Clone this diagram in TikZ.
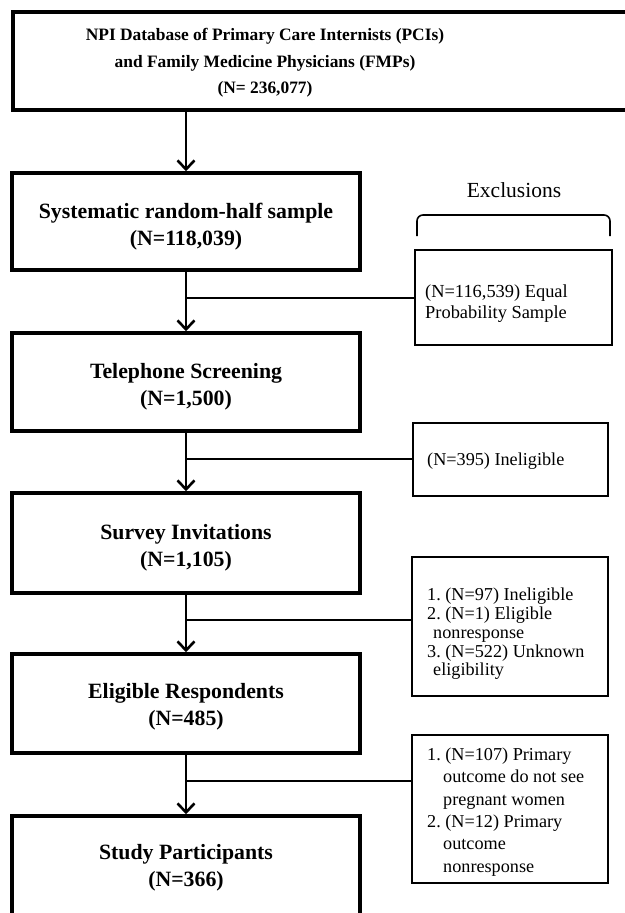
\documentclass[tikz,border=0pt]{standalone}
\usepackage{fontspec}
\setmainfont{Liberation Serif}
\usetikzlibrary{arrows.meta}
\begin{document}
\frenchspacing
\begin{tikzpicture}[x=1pt,y=-1pt,
  mainbox/.style={draw,line width=3.5pt,minimum width=348pt,inner sep=0pt},
  maintext/.style={align=center,inner sep=0pt,font=\fontsize{21.8}{27}\selectfont\bfseries},
  exbox/.style={draw,line width=2pt,inner sep=0pt},
  extext/.style={anchor=west,align=left,inner sep=0pt},
  link/.style={line width=2pt},
  flow/.style={line width=2pt,-{Straight Barb[length=9pt,width=17pt,line width=2.6pt]}}]
\useasboundingbox (0,0) rectangle (624,913);

% main column
\node[draw,line width=3.5pt,minimum width=640pt,minimum height=98pt,inner sep=0pt] (b1) at (333,61) {};
\node[align=center,inner sep=0pt,font=\fontsize{17.4}{26.5}\selectfont\bfseries] (b1t) at (265,63)
  {NPI Database of Primary Care Internists (PCIs)\\and Family Medicine Physicians (FMPs)\\(N= 236,077)};
\node[mainbox,minimum height=97pt] (b2) at (186,221.5) {};
\node[maintext] (b2t) at (186,227) {Systematic random-half sample\\(N=118,039)};
\node[mainbox,minimum height=98pt] (b3) at (186,382) {};
\node[maintext] (b3t) at (186,387) {Telephone Screening\\(N=1,500)};
\node[mainbox,minimum height=100pt] (b4) at (186,543) {};
\node[maintext] (b4t) at (186,548) {Survey Invitations\\(N=1,105)};
\node[mainbox,minimum height=99pt] (b5) at (186,703.5) {};
\node[maintext] (b5t) at (186,707) {Eligible Respondents\\(N=485)};
\node[mainbox,minimum height=99pt] (b6) at (186,865.5) {};
\node[maintext] (b6t) at (186,868) {Study Participants\\(N=366)};

% exclusions
\node[font=\fontsize{21.5}{24}\selectfont] (ext) at (514,190) {Exclusions};
\draw[line width=1.6pt,rounded corners=6pt] (417,236) -- (417,215) -- (610,215) -- (610,236);

\node[exbox,minimum width=197pt,minimum height=95pt] (e1) at (513.5,297.5) {};
\node[extext,font=\fontsize{18.4}{21}\selectfont] (e1t) at (425,304)
  {(N=116,539) Equal\\Probability Sample};
\node[exbox,minimum width=195pt,minimum height=73pt] (e2) at (510.5,459.5) {};
\node[extext,font=\fontsize{18.2}{19}\selectfont] (e2t) at (427,461) {(N=395) Ineligible};
\node[exbox,minimum width=196pt,minimum height=139pt] (e3) at (510,626.5) {};
\node[extext,font=\fontsize{18.2}{18.8}\selectfont] (e3t) at (427,634)
  {1. (N=97) Ineligible\\2. (N=1) Eligible\\\hspace*{6pt}nonresponse\\3. (N=522) Unknown\\\hspace*{6pt}eligibility};
\node[exbox,minimum width=196pt,minimum height=148pt] (e4) at (510,809) {};
\node[extext,font=\fontsize{18.2}{22.3}\selectfont] (e4t) at (427,812)
  {1. (N=107) Primary\\\hspace*{16pt}outcome do not see\\\hspace*{16pt}pregnant women\\2. (N=12) Primary\\\hspace*{16pt}outcome\\\hspace*{16pt}nonresponse};

% flow arrows
\draw[flow] (b2.north |- b1.south) -- (b2.north);
\draw[flow] (b2.south) -- (b3.north);
\draw[flow] (b3.south) -- (b4.north);
\draw[flow] (b4.south) -- (b5.north);
\draw[flow] (b5.south) -- (b6.north);

% exclusion links
\coordinate (j1) at (186,298);
\coordinate (j2) at (186,459);
\coordinate (j3) at (186,620);
\coordinate (j4) at (186,781);
\draw[link] (j1) -- (j1 -| e1.west);
\draw[link] (j2) -- (j2 -| e2.west);
\draw[link] (j3) -- (j3 -| e3.west);
\draw[link] (j4) -- (j4 -| e4.west);
\end{tikzpicture}
\end{document}
